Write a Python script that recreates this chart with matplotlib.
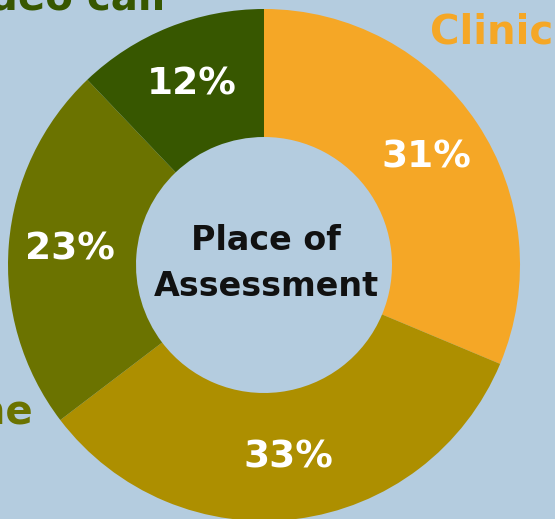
import matplotlib
matplotlib.use("Agg")
import matplotlib.pyplot as plt

categories = ["Clinic", "Home", "Phone", "Video call"]
values = [31, 33, 23, 12]
colors = ["#F5A726", "#AD8F00", "#6B7300", "#375700"]
label_colors = {"Clinic": "#F5A726", "Phone": "#6B7300", "Video call": "#375700"}
center_title = "Place of\nAssessment"
bg = "#B4CCDF"

W, H = 555, 519
fig = plt.figure(figsize=(W / 100, H / 100), dpi=100, facecolor=bg)
ax = fig.add_axes([0, 0, 1, 1])
ax.set_facecolor(bg)

total = sum(values)
cx, cy, R = 264, H - 265, 256

wedges, texts, autotexts = ax.pie(
    values, colors=colors, startangle=90, counterclock=False,
    center=(cx, cy), radius=R, frame=True,
    wedgeprops=dict(width=R * 0.5, edgecolor="none"),
    autopct=lambda p: f"{round(p * total / 100)}%", pctdistance=0.76,
    textprops=dict(color="white", fontsize=27, fontweight="bold"),
)
ax.set_xlim(0, W)
ax.set_ylim(0, H)
ax.set_aspect("equal")
ax.axis("off")

ax.text(cx + 2, cy + 2, center_title, ha="center", va="center", fontsize=24,
        fontweight="bold", color="#111111", linespacing=1.5)

ax.text(430, H - 33, "Clinic", ha="left", va="center", fontsize=29,
        fontweight="bold", color=label_colors["Clinic"])
ax.text(165, H + 2, "Video call", ha="right", va="center", fontsize=29,
        fontweight="bold", color=label_colors["Video call"])
ax.text(33, H - 413, "Phone", ha="right", va="center", fontsize=29,
        fontweight="bold", color=label_colors["Phone"])

fig.savefig("out.png", dpi=100, facecolor=bg)
